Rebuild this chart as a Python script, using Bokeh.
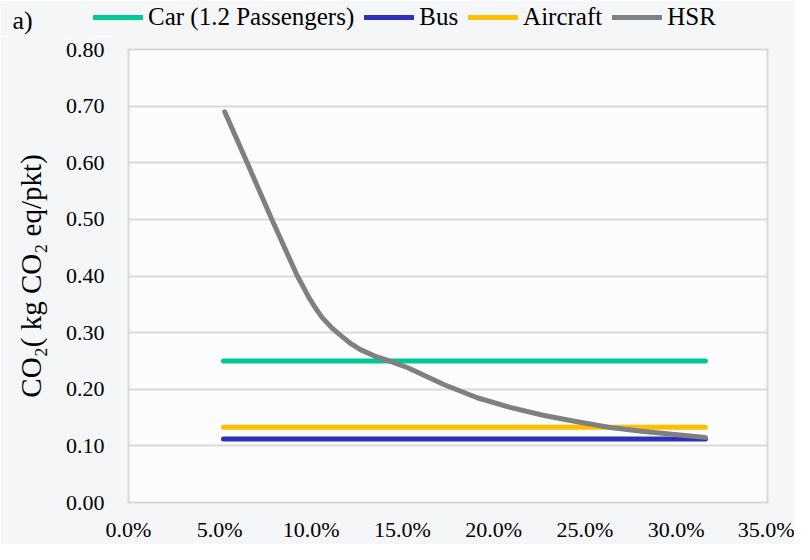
from bokeh.plotting import figure
from bokeh.layouts import column
from bokeh.models import Legend, LegendItem, Label, NumeralTickFormatter, FixedTicker, Range1d
from bokeh.embed import file_html
from bokeh.resources import INLINE

# Data
load_factor_range = [0.052, 0.316]
car = [0.25, 0.25]
bus = [0.112, 0.112]
aircraft = [0.133, 0.133]

hsr_x = [0.0527, 0.065, 0.0785, 0.0925, 0.0960, 0.099, 0.1025, 0.106, 0.1115, 0.117,
         0.122, 0.127, 0.1345, 0.142, 0.153, 0.173, 0.191, 0.209, 0.227, 0.245,
         0.263, 0.281, 0.299, 0.316]
hsr_y = [0.690, 0.600, 0.500, 0.400, 0.379, 0.361, 0.343, 0.327, 0.308, 0.293,
         0.280, 0.270, 0.259, 0.251, 0.238, 0.208, 0.185, 0.168, 0.154, 0.143,
         0.133, 0.126, 0.120, 0.115]

series_names = ["Car (1.2 Passengers)", "Bus", "Aircraft", "HSR"]
series_colors = ["#00c896", "#2e30b8", "#ffc000", "#808080"]

x_ticks = [0.0, 0.05, 0.10, 0.15, 0.20, 0.25, 0.30, 0.35]
y_ticks = [0.0, 0.1, 0.2, 0.3, 0.4, 0.5, 0.6, 0.7, 0.8]

FONT = "Liberation Serif"
PAGE_BG = "#f5f6f8"
W = 794
LEG_H = 36

# ---- top strip: panel tag and legend ----
top = figure(width=W, height=LEG_H, output_backend="svg", toolbar_location=None,
             x_range=Range1d(0, W), y_range=Range1d(0, LEG_H),
             x_axis_location=None, y_axis_location=None, min_border=0)
top.grid.visible = False
top.outline_line_color = None
top.background_fill_color = PAGE_BG
top.border_fill_color = PAGE_BG

series_x = [load_factor_range, load_factor_range, load_factor_range, hsr_x]
series_y = [car, bus, aircraft, hsr_y]
leg_renderers = [top.line(xs, ys, line_color=c, line_width=5, line_cap="round", visible=False)
                 for xs, ys, c in zip(series_x, series_y, series_colors)]
legend = Legend(items=[LegendItem(label=n, renderers=[r]) for n, r in zip(series_names, leg_renderers)],
                orientation="horizontal", location=(93, 5),
                background_fill_alpha=0, border_line_color=None,
                inactive_fill_alpha=0,
                label_text_font=FONT, label_text_font_size="25px", label_text_color="#000000",
                glyph_width=50, glyph_height=24, label_standoff=5, spacing=10,
                padding=0, margin=0, label_height=24)
top.add_layout(legend)
top.add_layout(Label(x=12, y=LEG_H - 19.5, text="a)", text_font=FONT, text_font_size="26px",
                     text_color="#000000", text_baseline="middle"))

# ---- main chart ----
p = figure(width=W, height=544 - LEG_H, output_backend="svg", toolbar_location=None,
           x_range=Range1d(0, 0.35), y_range=Range1d(0, 0.8),
           min_border_left=128, min_border_right=27, min_border_top=49 - LEG_H, min_border_bottom=41)

for fig in (top, p):
    if "frame_align" in fig.properties():
        fig.frame_align = False

p.background_fill_color = "#fcfcfd"
p.border_fill_color = PAGE_BG
p.outline_line_color = "#d9d9d9"
p.outline_line_width = 2

p.line(load_factor_range, car, line_color=series_colors[0], line_width=5, line_cap="round")
p.line(load_factor_range, bus, line_color=series_colors[1], line_width=5, line_cap="round")
p.line(load_factor_range, aircraft, line_color=series_colors[2], line_width=5, line_cap="round")
p.line(hsr_x, hsr_y, line_color=series_colors[3], line_width=5, line_cap="round", line_join="round")

p.xgrid.visible = False
p.ygrid.grid_line_color = "#d9d9d9"
p.ygrid.grid_line_width = 2

p.xaxis.ticker = FixedTicker(ticks=x_ticks)
p.yaxis.ticker = FixedTicker(ticks=y_ticks)
p.xaxis.formatter = NumeralTickFormatter(format="0.0%")
p.yaxis.formatter = NumeralTickFormatter(format="0.00")

p.axis.axis_line_color = None
p.axis.major_tick_line_color = None
p.axis.minor_tick_line_color = None
p.axis.major_tick_out = 0
p.axis.major_tick_in = 0
p.axis.major_label_text_font = FONT
p.axis.major_label_text_font_size = "22px"
p.axis.major_label_text_color = "#000000"

p.xaxis.major_label_standoff = 14
p.yaxis.major_label_standoff = 24
p.yaxis.axis_label = "CO₂( kg CO₂ eq/pkt)"
p.yaxis.axis_label_text_font = FONT
p.yaxis.axis_label_text_font_size = "29px"
p.yaxis.axis_label_text_font_style = "normal"
p.yaxis.axis_label_text_color = "#000000"
p.yaxis.axis_label_standoff = 16

layout = column(top, p, spacing=0)
open("out.html", "w").write(file_html(layout, INLINE))
